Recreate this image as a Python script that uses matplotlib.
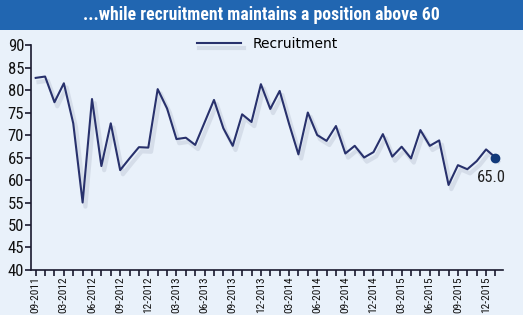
import matplotlib
matplotlib.use('Agg')
import matplotlib.pyplot as plt
import matplotlib.patheffects as pe
from matplotlib.patches import Rectangle
from matplotlib import font_manager

# ── data ──
values = [82.7, 83.0, 77.3, 81.5, 72.6, 55.0, 78.0, 63.1, 72.6, 62.2,
          64.8, 67.3, 67.2, 80.2, 75.9, 69.1, 69.4, 67.8, 72.8, 77.8,
          71.5, 67.6, 74.6, 72.9, 81.3, 75.8, 79.8, 72.5, 65.7, 75.0,
          70.0, 68.7, 72.0, 65.9, 67.6, 65.0, 66.2, 70.2, 65.2, 67.4,
          64.8, 71.1, 67.6, 68.8, 58.9, 63.3, 62.4, 64.2, 66.8, 65.0]
tick_labels = ['09-2011', '03-2012', '06-2012', '09-2012', '12-2012',
               '03-2013', '06-2013', '09-2013', '12-2013', '03-2014',
               '06-2014', '09-2014', '12-2014', '03-2015', '06-2015',
               '09-2015', '12-2015']
series_name = 'Recruitment'
title = '...while recruitment maintains a position above 60'

BG = '#e9f1fa'
NAVY = '#28316c'
BANNER = '#2166b1'

# 좁은 글꼴 (있으면 사용)
names = {f.name for f in font_manager.fontManager.ttflist}
narrow_fam = 'DejaVu Sans'
for cand in ['Liberation Sans Narrow', 'Roboto Condensed', 'Open Sans Condensed']:
    if cand in names:
        narrow_fam = cand
        break
NARROW = dict(family=[narrow_fam, 'DejaVu Sans'], stretch='condensed')

fig = plt.figure(figsize=(5.23, 3.15), dpi=100)
fig.patch.set_facecolor(BG)

# 상단 배너
fig.patches.append(Rectangle((0, 0.905), 1, 0.095, transform=fig.transFigure,
                             facecolor=BANNER, edgecolor='none', zorder=0))
fig.text(0.5, 0.952, title, ha='center', va='center', color='white',
         fontsize=12.8, fontweight='bold', **NARROW)

ax = fig.add_axes([0.0593, 0.1429, 0.9024, 0.7141])
ax.set_facecolor(BG)

x = list(range(len(values)))
ax.plot(x, values, color=NAVY, linewidth=1.5, label=series_name,
        path_effects=[pe.SimpleLineShadow(offset=(2, -3), shadow_color='#a8b2c4',
                                          alpha=0.3, linewidth=3),
                      pe.Normal()])
ax.plot(x[-1], values[-1], 'o', color='#123a7a', markersize=6, zorder=5)
ax.annotate(f'{values[-1]:.1f}', (x[-1], values[-1]), xytext=(-3, -9),
            textcoords='offset points', ha='center', va='top',
            fontsize=12, color='#222222', **NARROW)

ax.set_ylim(40, 90)
ax.set_xlim(-0.5, 49.8)
ax.set_yticks(range(40, 91, 5))
ax.set_xticks(range(0, 3 * len(tick_labels), 3))
ax.set_xticklabels(tick_labels, rotation=90)
ax.set_xticks(x, minor=True)

for s in ['top', 'right']:
    ax.spines[s].set_visible(False)
for s in ['left', 'bottom']:
    ax.spines[s].set_color('#1a1a2e')
    ax.spines[s].set_linewidth(1.2)

ax.tick_params(axis='y', length=4, width=1.2, color='#1a1a2e', pad=1, labelsize=12)
ax.tick_params(axis='x', which='both', length=4, width=1.2, color='#1a1a2e',
               pad=0.5, labelsize=8.2)
for lbl in ax.get_xticklabels() + ax.get_yticklabels():
    lbl.set_family(NARROW['family'])
    lbl.set_stretch('condensed')
    lbl.set_color('#111111')

ax.legend(loc='upper center', bbox_to_anchor=(0.5, 1.09), frameon=False,
          fontsize=10, handlelength=3.2, handletextpad=0.8)

fig.savefig('out.png', dpi=100, facecolor=BG)
